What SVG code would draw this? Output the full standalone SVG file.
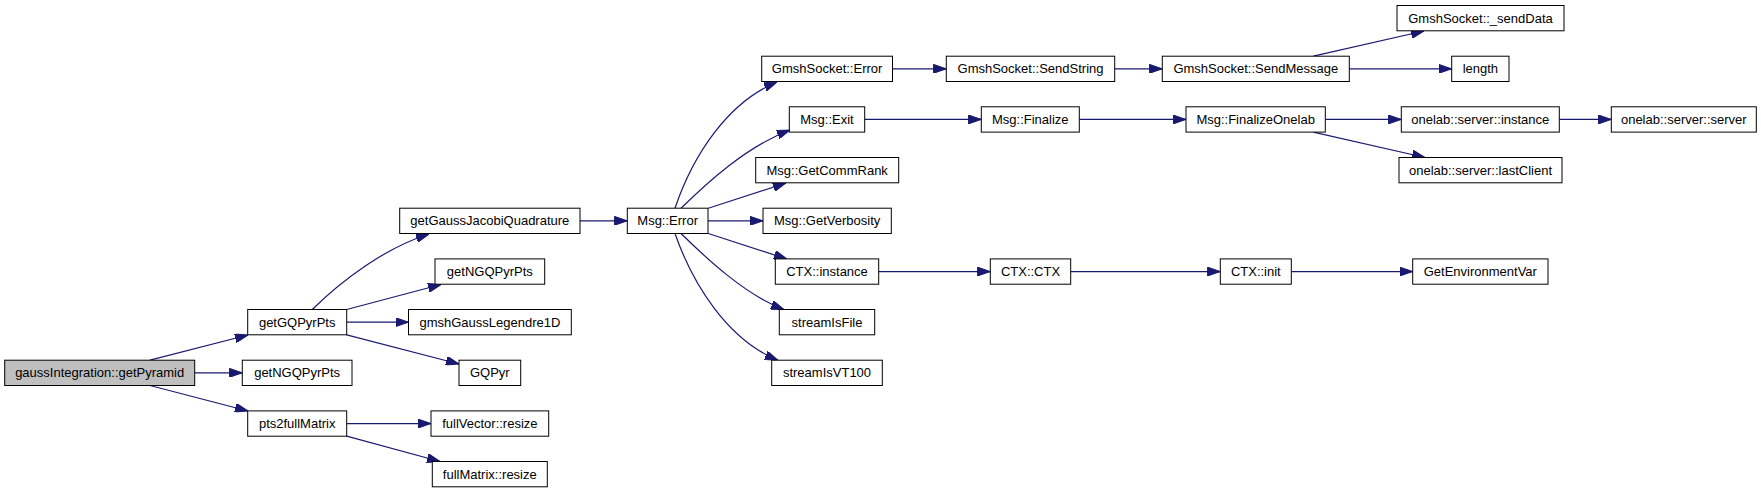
<svg xmlns="http://www.w3.org/2000/svg" width="1761" height="493" viewBox="0 0 1761 493">
<style>
.node rect{fill:#fff;stroke:#000;stroke-width:1}
.root rect{fill:#bfbfbf}
.node text{font-family:"Liberation Sans",Arial,Helvetica,sans-serif;font-size:13px;text-anchor:middle;fill:#000}
.edges path{fill:none;stroke:#191970;stroke-width:1.2;marker-end:url(#ah)}
</style>
<defs>
<marker id="ah" viewBox="0 0 13 9" refX="13" refY="4.5" markerWidth="13" markerHeight="9" markerUnits="userSpaceOnUse" orient="auto">
<path d="M0,0 L13,4.5 L0,9 z" fill="#191970" stroke="#191970" stroke-width="1"/>
</marker>
</defs>
<rect width="1761" height="493" fill="#fff"/>
<g class="edges">
<path d="M150,360.2 L248,335"/>
<path d="M194.7,372.85 L242.3,372.85"/>
<path d="M150,385.5 L248,411"/>
<path d="M312.3,309.5 C342,280 385,248 429,234"/>
<path d="M346.7,309.5 L441,284.5"/>
<path d="M346.7,322.15 L408.5,322.15"/>
<path d="M346.7,334.8 L459,364"/>
<path d="M346.7,423.55 L431,423.55"/>
<path d="M346.7,436.2 L440,461.5"/>
<path d="M580,220.85 L627.3,220.85"/>
<path d="M675,208.2 C693,155 728,102 777,82"/>
<path d="M681,208.2 C705,185 745,147 790,130"/>
<path d="M708.3,208.2 L786,183"/>
<path d="M708,220.85 L763,220.85"/>
<path d="M708.3,233.5 L787,259"/>
<path d="M681,233.5 C705,257 745,295 784,309.5"/>
<path d="M675,233.5 C693,285 728,340 778,360.2"/>
<path d="M892.5,68.85 L946.3,68.85"/>
<path d="M1114.7,68.85 L1162.3,68.85"/>
<path d="M1313.3,56.2 L1424,31"/>
<path d="M1349.3,68.85 L1451.7,68.85"/>
<path d="M864.7,119.45 L981.3,119.45"/>
<path d="M1079.3,119.45 L1186,119.45"/>
<path d="M1325.3,119.45 L1401.3,119.45"/>
<path d="M1313.3,132.1 L1425,157.5"/>
<path d="M1559.3,119.45 L1611.3,119.45"/>
<path d="M878.7,271.55 L990.3,271.55"/>
<path d="M1070.7,271.55 L1220.3,271.55"/>
<path d="M1291.3,271.55 L1412.7,271.55"/>
</g>
<g id="n_root" class="node root"><rect x="4.7" y="360.2" width="190" height="25.3"/><text x="99.7" y="377.35">gaussIntegration::getPyramid</text></g>
<g id="n_getGQPyrPts" class="node"><rect x="247.7" y="309.5" width="99" height="25.3"/><text x="297.2" y="326.65">getGQPyrPts</text></g>
<g id="n_getNGQPyrPts_a" class="node"><rect x="242.3" y="360.2" width="109.7" height="25.3"/><text x="297.15" y="377.35">getNGQPyrPts</text></g>
<g id="n_pts2fullMatrix" class="node"><rect x="247.7" y="410.9" width="99" height="25.3"/><text x="297.2" y="428.05">pts2fullMatrix</text></g>
<g id="n_getGaussJacobiQuadrature" class="node"><rect x="399.7" y="208.2" width="180.3" height="25.3"/><text x="489.85" y="225.35">getGaussJacobiQuadrature</text></g>
<g id="n_getNGQPyrPts_b" class="node"><rect x="435" y="258.9" width="109.7" height="25.3"/><text x="489.85" y="276.05">getNGQPyrPts</text></g>
<g id="n_gmshGaussLegendre1D" class="node"><rect x="408.5" y="309.5" width="162.8" height="25.3"/><text x="489.9" y="326.65">gmshGaussLegendre1D</text></g>
<g id="n_GQPyr" class="node"><rect x="459" y="360.2" width="61.7" height="25.3"/><text x="489.85" y="377.35">GQPyr</text></g>
<g id="n_fullVector_resize" class="node"><rect x="431" y="410.9" width="117.7" height="25.3"/><text x="489.85" y="428.05">fullVector::resize</text></g>
<g id="n_fullMatrix_resize" class="node"><rect x="432.3" y="461.5" width="115" height="25.3"/><text x="489.8" y="478.65">fullMatrix::resize</text></g>
<g id="n_Msg_Error" class="node"><rect x="627.3" y="208.2" width="80.7" height="25.3"/><text x="667.65" y="225.35">Msg::Error</text></g>
<g id="n_GmshSocket_Error" class="node"><rect x="761.7" y="56.2" width="130.8" height="25.3"/><text x="827.1" y="73.35">GmshSocket::Error</text></g>
<g id="n_Msg_Exit" class="node"><rect x="789.3" y="106.8" width="75.4" height="25.3"/><text x="827" y="123.95">Msg::Exit</text></g>
<g id="n_Msg_GetCommRank" class="node"><rect x="755.7" y="157.5" width="143" height="25.3"/><text x="827.2" y="174.65">Msg::GetCommRank</text></g>
<g id="n_Msg_GetVerbosity" class="node"><rect x="763" y="208.2" width="128.3" height="25.3"/><text x="827.15" y="225.35">Msg::GetVerbosity</text></g>
<g id="n_CTX_instance" class="node"><rect x="775.3" y="258.9" width="103.4" height="25.3"/><text x="827" y="276.05">CTX::instance</text></g>
<g id="n_streamIsFile" class="node"><rect x="779.3" y="309.5" width="95.4" height="25.3"/><text x="827" y="326.65">streamIsFile</text></g>
<g id="n_streamIsVT100" class="node"><rect x="771.7" y="360.2" width="110.6" height="25.3"/><text x="827" y="377.35">streamIsVT100</text></g>
<g id="n_SendString" class="node"><rect x="946.3" y="56.2" width="168.4" height="25.3"/><text x="1030.5" y="73.35">GmshSocket::SendString</text></g>
<g id="n_SendMessage" class="node"><rect x="1162.3" y="56.2" width="187" height="25.3"/><text x="1255.8" y="73.35">GmshSocket::SendMessage</text></g>
<g id="n_Msg_Finalize" class="node"><rect x="981.3" y="106.8" width="98" height="25.3"/><text x="1030.3" y="123.95">Msg::Finalize</text></g>
<g id="n_Msg_FinalizeOnelab" class="node"><rect x="1186" y="106.8" width="139.3" height="25.3"/><text x="1255.65" y="123.95">Msg::FinalizeOnelab</text></g>
<g id="n_CTX_CTX" class="node"><rect x="990.3" y="258.9" width="80.4" height="25.3"/><text x="1030.5" y="276.05">CTX::CTX</text></g>
<g id="n_CTX_init" class="node"><rect x="1220.3" y="258.9" width="71" height="25.3"/><text x="1255.8" y="276.05">CTX::init</text></g>
<g id="n_sendData" class="node"><rect x="1397" y="5.5" width="167" height="25.3"/><text x="1480.5" y="22.65">GmshSocket::_sendData</text></g>
<g id="n_length" class="node"><rect x="1451.7" y="56.2" width="57.3" height="25.3"/><text x="1480.35" y="73.35">length</text></g>
<g id="n_server_instance" class="node"><rect x="1401.3" y="106.8" width="158" height="25.3"/><text x="1480.3" y="123.95">onelab::server::instance</text></g>
<g id="n_server_server" class="node"><rect x="1611.3" y="106.8" width="145" height="25.3"/><text x="1683.8" y="123.95">onelab::server::server</text></g>
<g id="n_server_lastClient" class="node"><rect x="1399" y="157.5" width="163" height="25.3"/><text x="1480.5" y="174.65">onelab::server::lastClient</text></g>
<g id="n_GetEnvironmentVar" class="node"><rect x="1412.7" y="258.9" width="135.3" height="25.3"/><text x="1480.35" y="276.05">GetEnvironmentVar</text></g>
</svg>
